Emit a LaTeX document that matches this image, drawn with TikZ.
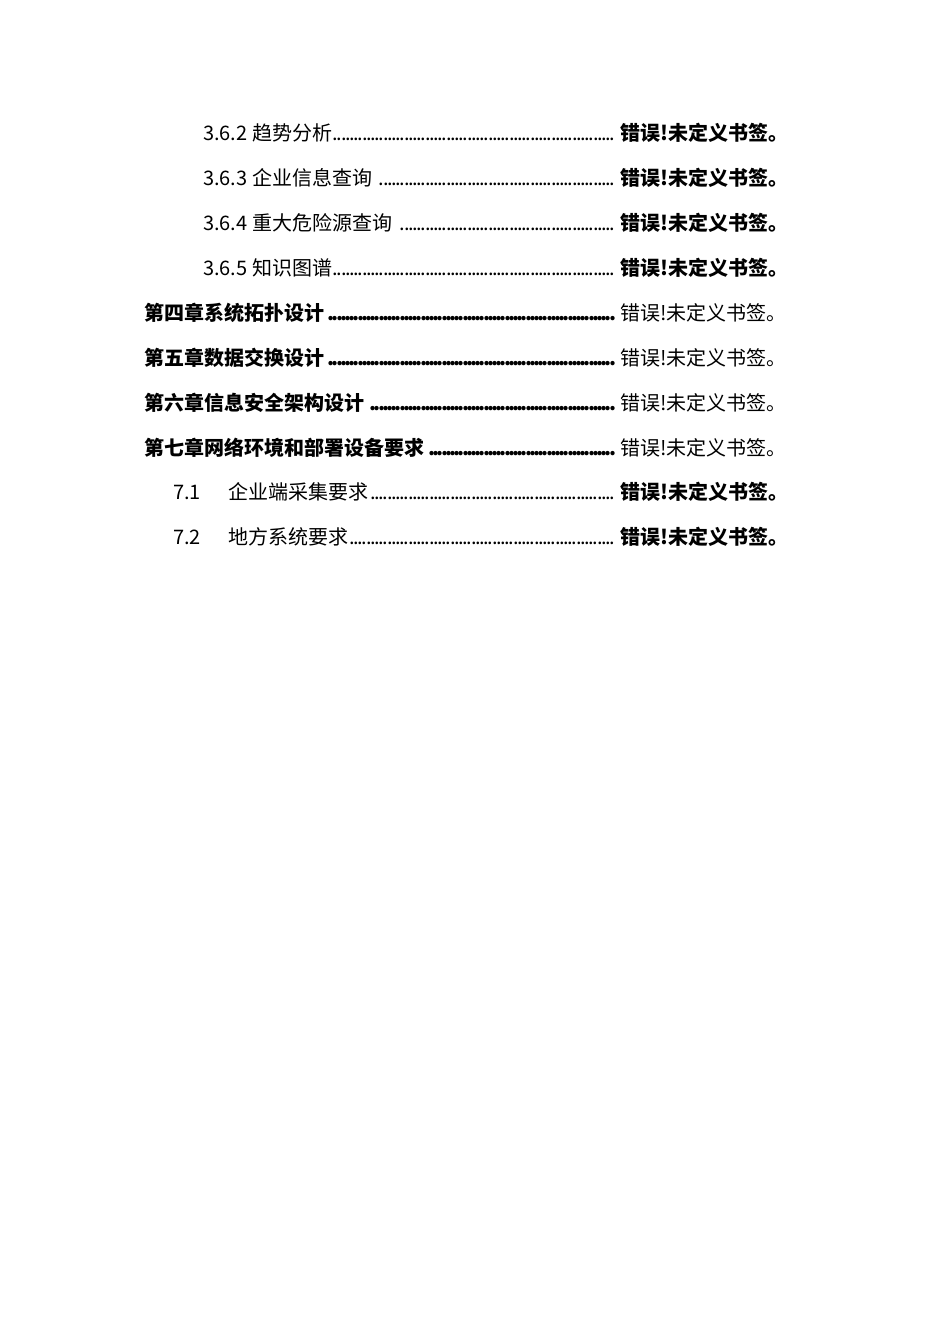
\documentclass[tikz,border=0pt]{standalone}
\usepackage{fontspec}
\setmainfont{Noto Sans CJK SC}
\newcommand{\tocline}[2]{\hbox to #1{#2\leaders\hbox to 4.2pt{\hss.\hss}\hfill}}
\begin{document}
\begin{tikzpicture}[x=1pt,y=1pt,every node/.style={inner sep=0pt,anchor=base west,font=\fontsize{20}{24}\selectfont}]
\useasboundingbox[fill=white] (0,0) rectangle (950,-1344);
\def\err{错误!未定义书签。}
\foreach \y/\t [count=\i] in {133/3.6.2 趋势分析,178/3.6.3 企业信息查询\ ,223/3.6.4 重大危险源查询\ ,268/3.6.5 知识图谱}{
  \node (s\i) at (203,-\y-7) {\tocline{414pt}{\t}};
  \node (e\i) at (620,-\y-7) {\textbf{\err}};
}
\foreach \y/\t [count=\i] in {313/第四章系统拓扑设计\ ,358/第五章数据交换设计\ ,403/第六章信息安全架构设计\ ,448/第七章网络环境和部署设备要求\ }{
  \node (c\i) at (144,-\y-7) {\bfseries\tocline{473pt}{\t}};
  \node (f\i) at (620,-\y-7) {\err};
}
\foreach \y/\n/\t [count=\i] in {492/7.1/企业端采集要求,537/7.2/地方系统要求}{
  \node (n\i) at (173,-\y-7) {\n};
  \node (t\i) at (228,-\y-7) {\tocline{389pt}{\t}};
  \node (g\i) at (620,-\y-7) {\textbf{\err}};
}
\end{tikzpicture}
\end{document}
